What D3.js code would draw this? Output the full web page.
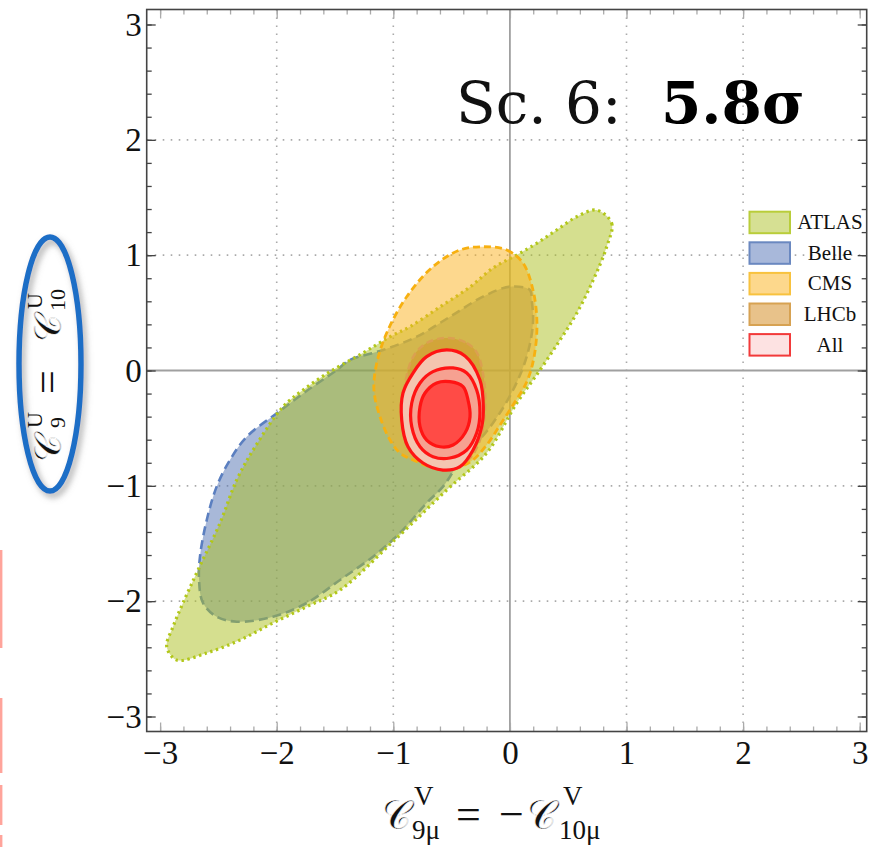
<!DOCTYPE html>
<html>
<head>
<meta charset="utf-8">
<script src="https://cdn.jsdelivr.net/npm/d3@7"></script>
<style>
  body { margin: 0; background: #fff; }
  svg { display: block; }
</style>
</head>
<body>
<svg id="chart"></svg>
<script>
// contour points: [C9mu^V, C9^U]
const atlasPts = [
  [0.744, 1.391], [0.873, 1.276], [0.830, 1.073], [0.715, 0.785], [0.573, 0.496],
  [0.430, 0.265], [0.258, 0.004], [0.058, -0.284], [-0.199, -0.715], [-0.542, -1.036],
  [-1.003, -1.484], [-1.457, -1.903], [-1.743, -2.048], [-2.032, -2.189], [-2.315, -2.337],
  [-2.600, -2.449], [-2.858, -2.510], [-2.943, -2.395], [-2.889, -2.221], [-2.804, -2.016],
  [-2.675, -1.730], [-2.486, -1.322], [-2.343, -0.949], [-2.186, -0.663], [-1.946, -0.314],
  [-1.774, -0.169], [-1.543, -0.010], [-1.260, 0.152], [-1.028, 0.293], [-0.857, 0.380],
  [-0.600, 0.551], [-0.342, 0.724], [-0.145, 0.889], [0.058, 1.001], [0.230, 1.103],
  [0.401, 1.218], [0.573, 1.333]
];
const bellePts = [
  [0.172, 0.698], [0.001, 0.727], [-0.231, 0.640], [-0.514, 0.466], [-0.799, 0.293],
  [-1.088, 0.178], [-1.371, 0.091], [-1.485, 0.004], [-1.756, -0.186], [-2.000, -0.371],
  [-2.257, -0.574], [-2.401, -0.776], [-2.515, -1.007], [-2.600, -1.296], [-2.658, -1.614],
  [-2.666, -1.816], [-2.632, -2.016], [-2.515, -2.135], [-2.343, -2.178], [-2.032, -2.135],
  [-1.743, -2.016], [-1.457, -1.816], [-1.174, -1.614], [-0.943, -1.409], [-0.714, -1.149],
  [-0.574, -1.007], [-0.456, -0.834], [-0.145, -0.455], [0.027, -0.169], [0.144, 0.120],
  [0.198, 0.412], [0.187, 0.611]
];
const cmsPts = [
  [-0.231, 1.073], [-0.027, 1.045], [0.112, 0.932], [0.198, 0.698], [0.232, 0.412],
  [0.207, 0.117], [0.144, -0.100], [0.027, -0.299], [-0.085, -0.473], [-0.199, -0.646],
  [-0.342, -0.793], [-0.557, -0.863], [-0.831, -0.776], [-0.943, -0.715], [-1.028, -0.603],
  [-1.114, -0.401], [-1.166, -0.169], [-1.142, 0.065], [-1.057, 0.325], [-0.885, 0.640],
  [-0.660, 0.900], [-0.428, 1.045]
];
const lhcbPts = [
  [-0.542, 0.282], [-0.370, 0.238], [-0.282, 0.152], [-0.222, -0.082], [-0.214, -0.342],
  [-0.257, -0.603], [-0.359, -0.776], [-0.548, -0.845], [-0.728, -0.802], [-0.874, -0.672],
  [-0.925, -0.429], [-0.908, -0.169], [-0.831, 0.117], [-0.714, 0.238]
];
const all3Pts = [
  [-0.542, 0.178], [-0.385, 0.126], [-0.257, -0.082], [-0.228, -0.314], [-0.242, -0.487],
  [-0.316, -0.689], [-0.428, -0.834], [-0.574, -0.863], [-0.745, -0.802], [-0.874, -0.661],
  [-0.928, -0.429], [-0.917, -0.195], [-0.831, -0.022], [-0.714, 0.120]
];
const all2Pts = [
  [-0.488, 0.022], [-0.370, -0.022], [-0.285, -0.169], [-0.257, -0.368], [-0.285, -0.542],
  [-0.370, -0.689], [-0.514, -0.759], [-0.660, -0.747], [-0.771, -0.661], [-0.842, -0.487],
  [-0.842, -0.282], [-0.771, -0.108], [-0.660, -0.010]
];
const all1Pts = [
  [-0.514, -0.097], [-0.402, -0.140], [-0.359, -0.256], [-0.342, -0.401], [-0.385, -0.542],
  [-0.488, -0.646], [-0.599, -0.661], [-0.714, -0.603], [-0.771, -0.487], [-0.771, -0.314],
  [-0.728, -0.195], [-0.628, -0.108]
];
const gridVals = [-2, -1, 1, 2];
const legendNames = ["ATLAS", "Belle", "CMS", "LHCb", "All"];
const legendFill = ["#d6e093", "#a8b8da", "#fdd88c", "#e8c28a", "#fde2e2"];
const legendStroke = ["#b9cd3a", "#6a88c0", "#f8c23e", "#d7a252", "#f23a3a"];

const w = 870;
const h = 847;
const padL = 146.7, padR = 866.7, padT = 9.5, padB = 731.5;

const svg = d3.select("#chart")
    .attr("width", w)
    .attr("height", h)
    .style("font-family", "'Liberation Serif', 'DejaVu Serif', serif");

const xScale = d3.scaleLinear().domain([-3.115, 3.06]).range([padL, padR]);
const yScale = d3.scaleLinear().domain([-3.13, 3.13]).range([padB, padT]);

const defs = svg.append("defs");
defs.append("clipPath").attr("id", "plotclip")
  .append("rect")
    .attr("x", padL).attr("y", padT)
    .attr("width", padR - padL).attr("height", padB - padT);
defs.append("filter").attr("id", "shadow")
    .attr("x", "-50%").attr("y", "-20%").attr("width", "200%").attr("height", "140%")
  .append("feDropShadow")
    .attr("dx", 3).attr("dy", 4).attr("stdDeviation", 3)
    .attr("flood-color", "#777").attr("flood-opacity", 0.6);

const plot = svg.append("g").attr("clip-path", "url(#plotclip)");

// dotted grid
plot.selectAll(".gx").data(gridVals).enter().append("line")
    .attr("x1", d => xScale(d)).attr("x2", d => xScale(d))
    .attr("y1", padT).attr("y2", padB)
    .attr("stroke", "#aaa").attr("stroke-width", 1.6).attr("stroke-dasharray", "1.6,6.4");
plot.selectAll(".gy").data(gridVals).enter().append("line")
    .attr("y1", d => yScale(d)).attr("y2", d => yScale(d))
    .attr("x1", padL).attr("x2", padR)
    .attr("stroke", "#aaa").attr("stroke-width", 1.6).attr("stroke-dasharray", "1.6,6.4");

// zero axes
plot.append("line")
    .attr("x1", xScale(0)).attr("x2", xScale(0)).attr("y1", padT).attr("y2", padB)
    .attr("stroke", "#a0a0a0").attr("stroke-width", 1.8);
plot.append("line")
    .attr("y1", yScale(0)).attr("y2", yScale(0)).attr("x1", padL).attr("x2", padR)
    .attr("stroke", "#a0a0a0").attr("stroke-width", 1.8);

const contour = d3.line()
    .x(d => xScale(d[0]))
    .y(d => yScale(d[1]))
    .curve(d3.curveCatmullRomClosed.alpha(0.5));

const regions = [
  { pts: bellePts, fill: "#5171b1", op: 0.5, stroke: "#5b7fc0", sw: 2.6, dash: "9,5" },
  { pts: atlasPts, fill: "#abbf1f", op: 0.5, stroke: "#b2c71a", sw: 3.2, dash: "2.4,3.6" },
  { pts: cmsPts, fill: "#fbb11d", op: 0.5, stroke: "#f7b010", sw: 2.8, dash: "7,4" },
  { pts: lhcbPts, fill: "#d1810f", op: 0.32, stroke: "#dba050", sw: 2.5, dash: "7,4" },
  { pts: all3Pts, fill: "#f6c6b6", op: 0.95, stroke: "#ff1414", sw: 3.2, dash: null },
  { pts: all2Pts, fill: "#f6a191", op: 1, stroke: "#ff1414", sw: 3.2, dash: null },
  { pts: all1Pts, fill: "#ff4b46", op: 1, stroke: "#ff1414", sw: 3.2, dash: null }
];

plot.selectAll("path.region")
    .data(regions)
    .enter()
    .append("path")
    .attr("class", "region")
    .attr("d", d => contour(d.pts))
    .attr("fill", d => d.fill)
    .attr("fill-opacity", d => d.op)
    .attr("stroke", d => d.stroke)
    .attr("stroke-width", d => d.sw)
    .attr("stroke-dasharray", d => d.dash)
    .attr("stroke-linejoin", "round");

// frame ticks (inward)
const majorX = xScale.ticks(6), minorX = xScale.ticks(30);
const majorY = yScale.ticks(6), minorY = yScale.ticks(30);
const fmt = d3.format("d");

const xAxis = d3.axisBottom(xScale).tickValues(majorX).tickFormat(fmt).tickSize(-9).tickPadding(9);
const yAxis = d3.axisLeft(yScale).tickValues(majorY).tickFormat(fmt).tickSize(-9).tickPadding(5);

function frameAxis(axis, tr, color) {
  const g = svg.append("g").attr("transform", tr).call(axis);
  g.select(".domain").remove();
  g.selectAll(".tick line").attr("stroke", color).attr("stroke-width", 1.3);
  return g;
}

frameAxis(d3.axisBottom(xScale).tickValues(minorX).tickFormat("").tickSize(-5), `translate(0,${padB})`, "#aaa");
frameAxis(d3.axisTop(xScale).tickValues(minorX).tickFormat("").tickSize(-5), `translate(0,${padT})`, "#aaa");
frameAxis(d3.axisTop(xScale).tickValues(majorX).tickFormat("").tickSize(-9), `translate(0,${padT})`, "#aaa");
frameAxis(d3.axisLeft(yScale).tickValues(minorY).tickFormat("").tickSize(-5), `translate(${padL},0)`, "#444");
frameAxis(d3.axisRight(yScale).tickValues(minorY).tickFormat("").tickSize(-5), `translate(${padR},0)`, "#444");
frameAxis(d3.axisRight(yScale).tickValues(majorY).tickFormat("").tickSize(-9), `translate(${padR},0)`, "#444");

const gx = frameAxis(xAxis, `translate(0,${padB})`, "#aaa");
gx.selectAll("text").attr("font-size", 33).attr("fill", "#111")
    .style("font-family", "'Liberation Serif', serif");
const gy = frameAxis(yAxis, `translate(${padL},0)`, "#444");
gy.selectAll("text").attr("font-size", 33).attr("fill", "#111")
    .style("font-family", "'Liberation Serif', serif");

svg.append("rect")
    .attr("x", padL).attr("y", padT)
    .attr("width", padR - padL).attr("height", padB - padT)
    .attr("fill", "none").attr("stroke", "#444").attr("stroke-width", 1.6);

// legend
const leg = svg.append("g");
legendNames.forEach((name, i) => {
  const y0 = 211.7 + i * 30.6;
  leg.append("rect")
      .attr("x", 749.5).attr("y", y0)
      .attr("width", 40.5).attr("height", 21.5)
      .attr("fill", legendFill[i]).attr("stroke", legendStroke[i]).attr("stroke-width", 2);
  leg.append("text")
      .attr("x", 830).attr("y", y0 + 17.5)
      .attr("text-anchor", "middle")
      .attr("font-size", 21)
      .attr("fill", "#111")
      .text(name);
});

// title
svg.append("text")
    .attr("x", 456).attr("y", 123)
    .style("font-family", "'DejaVu Serif', serif")
    .attr("font-size", 58)
    .attr("fill", "#111")
    .text("Sc. 6:");
svg.append("text")
    .attr("x", 661).attr("y", 123)
    .style("font-family", "'DejaVu Serif', serif")
    .attr("font-weight", "bold")
    .attr("font-size", 58)
    .attr("fill", "#000")
    .text("5.8σ");

// thin the heavy script glyph a little with a white outline
function scriptC(g, x, y, size) {
  return g.append("text").attr("x", x).attr("y", y).attr("font-size", size)
      .attr("stroke", "#fff").attr("stroke-width", 0.6).text("𝒞");
}

// x axis title
const xt = svg.append("g").attr("fill", "#111");
scriptC(xt, 382, 829, 40);
xt.append("text").attr("x", 414).attr("y", 805).attr("font-size", 27).text("V");
xt.append("text").attr("x", 412).attr("y", 839).attr("font-size", 27).text("9μ");
xt.append("text").attr("x", 456).attr("y", 829).attr("font-size", 44).text("=");
xt.append("text").attr("x", 499).attr("y", 829).attr("font-size", 44).text("−");
scriptC(xt, 527, 829, 40);
xt.append("text").attr("x", 563).attr("y", 805).attr("font-size", 27).text("V");
xt.append("text").attr("x", 559).attr("y", 839).attr("font-size", 27).text("10μ");

// y axis title, rotated, with hand-drawn blue ellipse
svg.append("ellipse")
    .attr("cx", 50).attr("cy", 364).attr("rx", 31).attr("ry", 127)
    .attr("fill", "none").attr("stroke", "#1f6ec6").attr("stroke-width", 5.5)
    .attr("filter", "url(#shadow)");
const yt = svg.append("g").attr("transform", "translate(61,0) rotate(-90)").attr("fill", "#111");
scriptC(yt, -462, 0, 38);
yt.append("text").attr("x", -428).attr("y", -19).attr("font-size", 22).text("U");
yt.append("text").attr("x", -428).attr("y", 4).attr("font-size", 22).text("9");
yt.append("text").attr("x", -394).attr("y", 0).attr("font-size", 42).text("=");
scriptC(yt, -342, 0, 38);
yt.append("text").attr("x", -309).attr("y", -19).attr("font-size", 22).text("U");
yt.append("text").attr("x", -311).attr("y", 4).attr("font-size", 22).text("10");

// faint red dashed edge at far left
svg.append("line")
    .attr("x1", 1.2).attr("x2", 1.2).attr("y1", 550).attr("y2", 847)
    .attr("stroke", "#ff5a48").attr("stroke-width", 2.4).attr("stroke-opacity", 0.55)
    .attr("stroke-dasharray", "98,50,75,12,40,10,20");
</script>
</body>
</html>
